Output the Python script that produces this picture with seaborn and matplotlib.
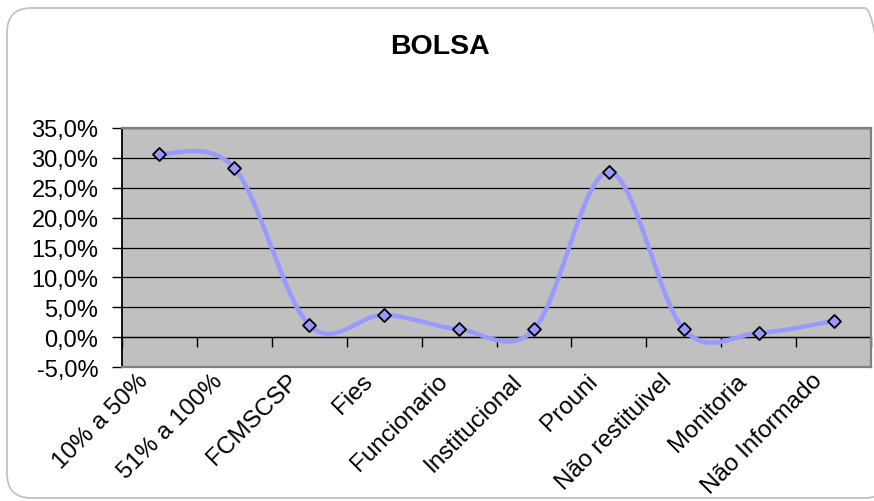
import numpy as np
import pandas as pd
import matplotlib
matplotlib.use("Agg")
import matplotlib.pyplot as plt
from matplotlib.patches import FancyBboxPatch
from matplotlib.transforms import ScaledTranslation
import seaborn as sns

# ---- data ----
categories = ["10% a 50%", "51% a 100%", "FCMSCSP", "Fies", "Funcionario",
              "Institucional", "Prouni", "Não restituivel", "Monitoria", "Não Informado"]
values = [30.7, 28.3, 2.0, 3.7, 1.3, 1.3, 27.7, 1.3, 0.7, 2.7]
y_ticks = [-5, 0, 5, 10, 15, 20, 25, 30, 35]
title = "BOLSA"

sns.set_theme(style="white")
plt.rcParams["font.family"] = ["Liberation Sans", "DejaVu Sans"]

LINE = "#9999FF"

def smooth(xv, yv, steps=30):
    """Excel-like smoothed line: cubic Bezier with Catmull-Rom control points."""
    p = np.column_stack([xv, yv]).astype(float)
    ext = np.vstack([p[0], p, p[-1]])
    out = []
    t = np.linspace(0, 1, steps)[:, None]
    for i in range(len(p) - 1):
        p0, p1, p2, p3 = ext[i], ext[i + 1], ext[i + 2], ext[i + 3]
        c1 = p1 + (p2 - p0) / 6.0
        c2 = p2 - (p3 - p1) / 6.0
        seg = ((1 - t) ** 3) * p1 + 3 * ((1 - t) ** 2) * t * c1 + 3 * (1 - t) * t ** 2 * c2 + t ** 3 * p2
        out.append(seg if i == 0 else seg[1:])
    return np.vstack(out)

x = np.arange(len(categories))
curve = smooth(x, values)
df_pts = pd.DataFrame({"x": x, "v": values})
df_curve = pd.DataFrame({"x": curve[:, 0], "v": curve[:, 1]})

fig = plt.figure(figsize=(8.74, 5.02), dpi=100)
fig.patch.set_facecolor("white")

# outer rounded frame
frame = FancyBboxPatch((7 / 874, 3 / 502), 882 / 874, 1 - 12 / 502,
                       boxstyle="round,pad=0,rounding_size=0.028",
                       transform=fig.transFigure, facecolor="none",
                       edgecolor="#BEBEBE", linewidth=1.2, clip_on=False,
                       mutation_aspect=874 / 502)
fig.patches.append(frame)

ax = fig.add_axes([122 / 874, 1 - 368 / 502, 749 / 874, 239 / 502])
ax.set_facecolor("#C0C0C0")

sns.lineplot(data=df_curve, x="x", y="v", sort=False, estimator=None,
             color=LINE, linewidth=3.2, ax=ax, zorder=3)
sns.scatterplot(data=df_pts, x="x", y="v", marker="D", s=44, color=LINE,
                edgecolor="black", linewidth=1.3, ax=ax, zorder=4)

ax.set_xlim(-0.5, len(categories) - 0.5)
ax.set_ylim(y_ticks[0], y_ticks[-1])
ax.set_yticks(y_ticks, labels=[f"{v:.1f}%".replace(".", ",") for v in y_ticks])
ax.yaxis.grid(True, color="black", linewidth=0.9)
ax.set_axisbelow(True)
ax.set_xlabel("")
ax.set_ylabel("")

ax.set_xticks(x, labels=categories, rotation=45, ha="right",
              rotation_mode="anchor", va="center")
ax.tick_params(axis="x", length=0, pad=15, labelsize=17.5, colors="black")
ax.tick_params(axis="y", left=True, length=7, width=1.0, pad=10,
               direction="out", labelsize=17, colors="black")
shift = ScaledTranslation(-15 / 100, 11 / 100, fig.dpi_scale_trans)
for lab in ax.get_xticklabels():
    lab.set_transform(lab.get_transform() + shift)

for s in ["top", "right", "bottom"]:
    ax.spines[s].set_color("#808080")
    ax.spines[s].set_linewidth(1.6)
ax.spines["left"].set_color("black")
ax.spines["left"].set_linewidth(1.3)

# category axis crossing at zero with boundary tick marks
sec = ax.secondary_xaxis(0, transform=ax.transData)
sec.set_xticks(np.arange(len(categories) + 1) - 0.5, labels=[])
sec.tick_params(axis="x", length=7, width=1.0, direction="out", colors="black")
for s in sec.spines.values():
    s.set_color("black")
    s.set_linewidth(0.9)

fig.text(440 / 874, 1 - 47.5 / 502, title, ha="center", va="center",
         fontsize=20.5, fontweight="bold", color="black")

fig.savefig("out.png", dpi=100)
